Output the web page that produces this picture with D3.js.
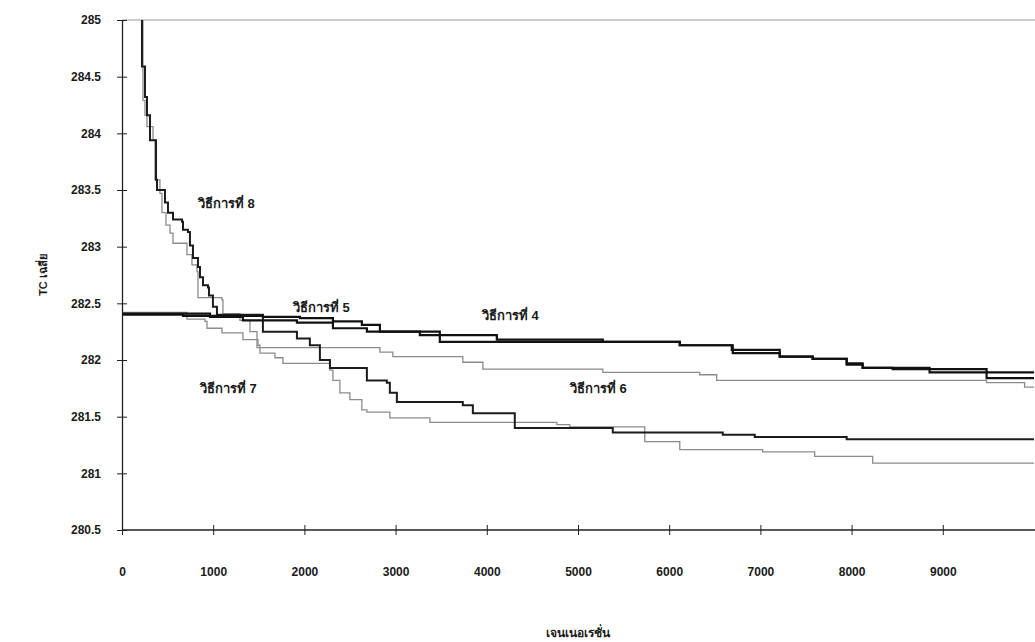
<!DOCTYPE html>
<html><head><meta charset="utf-8">
<script src="https://cdn.jsdelivr.net/npm/d3@7"></script>
<style>
html,body{margin:0;padding:0;background:#fff;}
svg{display:block;}
text{font-family:"Liberation Sans",Arial,"Noto Sans",sans-serif;fill:#1a1a1a;}
</style></head>
<body><svg id="chart" width="1035" height="642"></svg>
<script>
// ---- data (generation, mean TC) ----
const xTicks = [0,1000,2000,3000,4000,5000,6000,7000,8000,9000];
const yTicks = [280.5,281,281.5,282,282.5,283,283.5,284,284.5,285];
const xTitle = "เจนเนอเรชั่น";
const yTitle = "TC เฉลี่ย";

const method4 = [[0,282.40],[669,282.39],[965,282.38],[1326,282.35],[1918,282.33],[2313,282.28],[2685,282.25],[3485,282.16],[6116,282.13],[6697,282.06],[7212,282.03],[7573,282.01],[7946,281.96],[8121,281.93],[8855,281.89],[9480,281.84],[10000,281.84]];
const method5 = [[0,282.41],[965,282.39],[1545,282.38],[1951,282.37],[2313,282.34],[2630,282.31],[2828,282.25],[3266,282.22],[4110,282.18],[5272,282.16],[6116,282.13],[6686,282.09],[7212,282.03],[7573,282.01],[7946,281.97],[8121,281.93],[8450,281.92],[9480,281.89],[10000,281.89]];
const method6 = [[164,285.05],[230,284.29],[252,284.16],[274,284.06],[340,283.94],[362,283.59],[416,283.47],[438,283.30],[482,283.19],[526,283.12],[559,283.03],[712,282.93],[767,282.84],[822,282.78],[833,282.55],[1096,282.53],[1107,282.41],[1293,282.35],[1403,282.25],[1480,282.11],[2828,282.07],[2970,282.03],[3737,281.98],[3957,281.92],[5272,281.89],[6335,281.87],[6521,281.82],[9480,281.80],[9897,281.76],[10000,281.76]];
const method7 = [[0,282.42],[712,282.36],[910,282.34],[932,282.28],[1096,282.24],[1326,282.18],[1491,282.13],[1513,282.06],[1677,282.02],[1765,281.97],[2280,281.91],[2313,281.82],[2389,281.71],[2499,281.65],[2630,281.56],[2685,281.54],[2937,281.49],[3376,281.45],[4768,281.43],[4910,281.41],[5732,281.28],[6116,281.21],[7025,281.19],[7595,281.15],[8231,281.09],[10000,281.09]];
const method8 = [[170,285.05],[219,284.59],[252,284.32],[274,284.16],[307,283.94],[373,283.59],[384,283.50],[471,283.39],[504,283.30],[559,283.24],[658,283.22],[669,283.15],[723,283.13],[745,283.01],[778,282.90],[833,282.82],[855,282.73],[888,282.66],[943,282.64],[954,282.57],[997,282.47],[1041,282.40],[1545,282.25],[1918,282.19],[2060,282.13],[2170,282.00],[2280,281.93],[2685,281.82],[2904,281.80],[2937,281.71],[3014,281.63],[3737,281.60],[3847,281.53],[4307,281.40],[5381,281.36],[6587,281.34],[6938,281.32],[7946,281.30],[10000,281.30]];

const seriesNames = ["วิธีการที่ 7","วิธีการที่ 6","วิธีการที่ 8","วิธีการที่ 4","วิธีการที่ 5"];
const seriesData  = [method7, method6, method8, method4, method5];
const seriesKind  = ["thin","thin","dark","thick","thick"];

const labelTexts = ["วิธีการที่ 8","วิธีการที่ 5","วิธีการที่ 4","วิธีการที่ 7","วิธีการที่ 6"];
const labelGen   = [833, 1874, 3946, 855, 4910];
const labelVal   = [283.34, 282.42, 282.35, 281.71, 281.71];

// ---- drawing ----
const svg = d3.select("#chart");
const L = 122, R = 1034, T = 20, B = 530;
const x = d3.scaleLinear().domain([0,10000]).range([L,R]);
const y = d3.scaleLinear().domain([280.5,285]).range([B,T]);

svg.append("defs").append("clipPath").attr("id","plot")
  .append("rect").attr("x",L).attr("y",T).attr("width",R-L+2).attr("height",B-T);

// top frame line
svg.append("line").attr("x1",L).attr("x2",1035).attr("y1",T).attr("y2",T)
  .attr("stroke","#9a9a9a").attr("stroke-width",1.2);

const style = {
  thin:  {stroke:"#8c8c8c", width:1.3},
  dark:  {stroke:"#1c1c1c", width:2.0},
  thick: {stroke:"#111",    width:2.2}
};
const line = d3.line().x(d=>x(d[0])).y(d=>y(d[1])).curve(d3.curveStepAfter);
const g = svg.append("g").attr("clip-path","url(#plot)");
seriesData.forEach((s,i)=>{
  const st = style[seriesKind[i]];
  g.append("path").datum(s).attr("d",line).attr("fill","none")
    .attr("stroke",st.stroke).attr("stroke-width",st.width)
    .attr("data-name",seriesNames[i]);
});

// axes
const yAxis = d3.axisLeft(y).tickValues(yTicks).tickSizeInner(5).tickSizeOuter(0).tickPadding(16)
  .tickFormat(d=>String(d));
const yg = svg.append("g").attr("transform",`translate(${L},0)`).call(yAxis);
const xAxis = d3.axisBottom(x).tickValues(xTicks).tickSizeInner(5).tickSizeOuter(0).tickPadding(32)
  .tickFormat(d=>String(d));
const xg = svg.append("g").attr("transform",`translate(0,${B})`).call(xAxis);
[yg,xg].forEach(a=>{
  a.select(".domain").attr("stroke","#222").attr("stroke-width",1.3);
  a.selectAll(".tick line").attr("stroke","#222").attr("stroke-width",1);
  a.selectAll(".tick text").attr("font-size",12).attr("font-weight","bold").attr("fill","#222")
    .attr("font-family","'Liberation Sans',Arial,sans-serif");
});
// ticks cross the axes
yg.selectAll(".tick line").attr("x1",5).attr("x2",-5);
xg.selectAll(".tick line").attr("y1",-5).attr("y2",5);
// extend x axis to the right edge
xg.select(".domain").attr("d",`M${L},0H1035`);

// titles
svg.append("text").attr("x",(L+R)/2).attr("y",637).attr("text-anchor","middle")
  .attr("font-size",12).attr("font-weight","bold").text(xTitle);
svg.append("text").attr("transform",`translate(47,${(T+B)/2}) rotate(-90)`).attr("text-anchor","middle")
  .attr("font-size",11).attr("font-weight","bold").text(yTitle);

// method labels
labelTexts.forEach((t,i)=>{
  svg.append("text").attr("x",x(labelGen[i])).attr("y",y(labelVal[i]))
    .attr("font-size",13).attr("font-weight","bold").text(t);
});
</script></body></html>
